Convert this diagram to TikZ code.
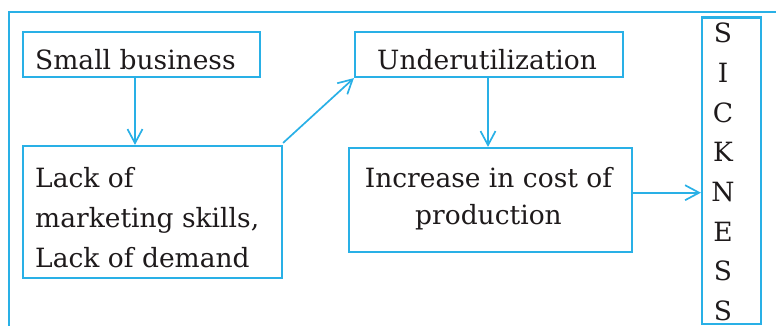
\documentclass[tikz,border=0pt]{standalone}
\usepackage{fontspec}
\setmainfont{DejaVu Serif}
\usetikzlibrary{arrows.meta}
\definecolor{flowblue}{RGB}{41,176,230}
\definecolor{ink}{RGB}{30,26,27}
\tikzset{
  box/.style={draw=flowblue, line width=2.2pt, rectangle, inner sep=0pt},
  txt/.style={text=ink, inner sep=0pt, font=\fontsize{26.5}{40}\selectfont},
  arr/.style={draw=flowblue, line width=1.7pt,
    -{Straight Barb[length=14pt,width=15pt,line width=1.7pt]}},
  frame/.style={draw=flowblue, line width=2.4pt}
}
\begin{document}
\begin{tikzpicture}[x=1pt,y=-1pt]
\useasboundingbox (0,0) rectangle (776,325);
% open outer frame
\draw[frame] (9,335) -- (9,12) -- (790,12);

% boxes
\node[box, minimum width=237pt, minimum height=45pt] (sb) at (141.5,54.5) {};
\node[box, minimum width=259pt, minimum height=132pt] (lack) at (152.5,212) {};
\node[box, minimum width=268pt, minimum height=45pt] (under) at (489,54.5) {};
\node[box, minimum width=283pt, minimum height=104pt] (incr) at (490.5,200) {};
\node[box, minimum width=59pt, minimum height=306.5pt] (sick) at (731.5,170.75) {};

% labels (multi-line nodes are placed by the baseline of their last line)
\node[txt, anchor=base west] (sbt) at (35,69) {Small business};
\node[txt, anchor=base west] (undert) at (377,69) {Underutilization};
\node[txt, anchor=base west, align=left] (lackt) at (35,267)
  {Lack of\\marketing skills,\\Lack of demand};
\node[txt, anchor=base, align=center, font=\fontsize{26.5}{37}\selectfont] (incrt) at (488.5,224)
  {Increase in cost of\\production};
\node[txt, anchor=base, align=center, font=\fontsize{26.5}{39.7}\selectfont] (sickt) at (723,320.5)
  {S\\I\\C\\K\\N\\E\\S\\S};

% connectors
\draw[arr] ([xshift=-6.5pt]sb.south) -- ([xshift=-6.5pt]sb.south |- lack.north);
\draw[arr] ([yshift=2pt]lack.north east) -- (under.south west);
\draw[arr] ([xshift=-1pt]under.south) -- ([xshift=-1pt]under.south |- incr.north);
\draw[arr] ([yshift=7.3pt]incr.east) -- ([yshift=7.3pt]incr.east -| sick.west);
\end{tikzpicture}
\end{document}
